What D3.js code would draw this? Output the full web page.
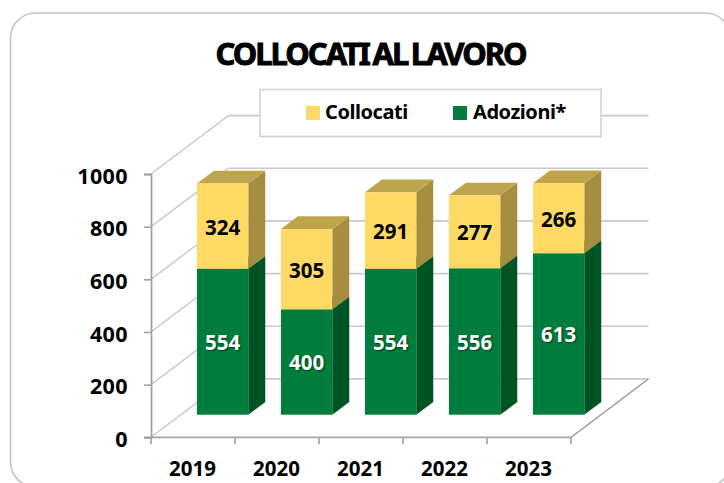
<!DOCTYPE html>
<html><head><meta charset="utf-8">
<script src="https://cdn.jsdelivr.net/npm/d3@7"></script>
<style>
html,body{margin:0;padding:0;background:#fff;overflow:hidden}
text{font-family:"Noto Sans",sans-serif;font-weight:700;fill:#000}
</style></head><body>
<svg id="c" width="724" height="483"></svg>
<script>
const years = ["2019","2020","2021","2022","2023"];
const adozioni = [554,400,554,556,613];
const collocati = [324,305,291,277,266];
const yTicks = [0,200,400,600,800,1000];
const titleText = "COLLOCATI AL LAVORO";

const svg = d3.select("#c");
const GRID="#c9c9c9", AXIS="#a3a3a3";
const yellow={front:"#FFD966",top:"#BFA44E",side:"#A68E40"};
const green={front:"#007D3C",top:"#00632F",side:"#005424"};

// frame
svg.append("rect").attr("x",10.5).attr("y",13).attr("width",720).attr("height",474).attr("rx",25)
  .attr("fill","#fff").attr("stroke","#c4c4c4").attr("stroke-width",1.6);

const y=d3.scaleLinear().domain([0,1000]).range([437.3,174]);
const x=d3.scaleBand().domain(years).range([151,571]);
const wall={dx:77.5,dy:58.4};           // oblique depth of the plot box
const bw=51.3, bar={dx:17,dy:12.7};     // bar width and depth
const floor={dx:30,dy:22.6};            // offset of bar fronts from axis plane

const g=svg.append("g");
// back wall grid + left wall diagonals
yTicks.forEach(v=>{
  if(v>0) g.append("line").attr("x1",x.range()[0]+wall.dx).attr("x2",x.range()[1]+wall.dx)
    .attr("y1",y(v)-wall.dy).attr("y2",y(v)-wall.dy).attr("stroke",GRID).attr("stroke-width",1.7);
  g.append("line").attr("x1",x.range()[0]).attr("x2",x.range()[0]+wall.dx)
    .attr("y1",y(v)).attr("y2",y(v)-wall.dy).attr("stroke",GRID).attr("stroke-width",1.4);
});
// floor back line & right diagonal
g.append("line").attr("x1",x.range()[0]+wall.dx).attr("x2",x.range()[1]+wall.dx)
  .attr("y1",y(0)-wall.dy).attr("y2",y(0)-wall.dy).attr("stroke",GRID).attr("stroke-width",1.7);
g.append("line").attr("x1",x.range()[1]).attr("x2",x.range()[1]+wall.dx)
  .attr("y1",y(0)).attr("y2",y(0)-wall.dy).attr("stroke",AXIS).attr("stroke-width",1.5);

// axes
const ax=svg.append("g").attr("transform",`translate(151,0)`)
  .call(d3.axisLeft(y).tickValues(yTicks).tickSize(7).tickPadding(16).tickFormat(d3.format("d")));
ax.selectAll("line").attr("stroke",AXIS).attr("stroke-width",1.6);
ax.select(".domain").attr("stroke",AXIS).attr("stroke-width",1.8);
ax.selectAll("text").style("font-size","21.5px").style("letter-spacing","0.4px")
  .style("font-family",'"Noto Sans",sans-serif').attr("fill","#000").attr("dy","0.42em");

const bx=svg.append("g").attr("transform",`translate(0,${y(0)})`);
bx.append("line").attr("x1",x.range()[0]-7).attr("x2",x.range()[1]).attr("stroke",AXIS).attr("stroke-width",1.8);
[...years.map(d=>x(d)),x.range()[1]].forEach(px=>{
  bx.append("line").attr("x1",px).attr("x2",px).attr("y1",0).attr("y2",7).attr("stroke",AXIS).attr("stroke-width",1.6);
});
bx.selectAll("text.t").data(years).join("text").attr("class","t")
  .attr("x",d=>x(d)+x.bandwidth()/2-0.5).attr("y",38.5).attr("text-anchor","middle")
  .style("font-size","20.5px").text(d=>d);

// bars
function seg(px,v0,v1,c){
  const l=px,r=px+bw,b=y(v0)-floor.dy,t=y(v1)-floor.dy;
  const s=svg.append("g");
  s.append("path").attr("fill",c.side).attr("d",`M${r},${b}L${r+bar.dx},${b-bar.dy}L${r+bar.dx},${t-bar.dy}L${r},${t}Z`);
  s.append("path").attr("fill",c.top).attr("d",`M${l},${t}L${l+bar.dx},${t-bar.dy}L${r+bar.dx},${t-bar.dy}L${r},${t}Z`);
  s.append("rect").attr("x",l).attr("y",t).attr("width",bw).attr("height",b-t).attr("fill",c.front);
}
years.forEach((d,i)=>{
  const px=x(d)+x.bandwidth()/2+floor.dx-bw/2-0.4;
  seg(px,0,adozioni[i],green);
  seg(px,adozioni[i],adozioni[i]+collocati[i],yellow);
  const lab=(v0,v1,val,col,sh)=>{
    svg.append("text").attr("x",px+bw/2).attr("y",(y(v0)+y(v1))/2-floor.dy).attr("dy","0.41em")
      .attr("text-anchor","middle").style("font-size","20.5px").style("fill",col)
      .style("text-shadow",sh).text(val);
  };
  lab(0,adozioni[i],adozioni[i],"#fff","1px 1px 2px rgba(0,0,0,.55)");
  lab(adozioni[i],adozioni[i]+collocati[i],collocati[i],"#000","none");
});

// title
svg.append("text").attr("x",370.5).attr("y",64.5).attr("text-anchor","middle")
  .style("font-size","31px").style("letter-spacing","-2px").style("word-spacing","-2.5px")
  .style("stroke","#000").style("stroke-width","0.9px").text(titleText);

// legend
svg.append("rect").attr("x",260).attr("y",89.5).attr("width",341).attr("height",47)
  .attr("fill","#fff").attr("stroke","#d2d2d2").attr("stroke-width",1.6);
const legend=[{n:"Collocati",c:yellow.front,sx:306,tx:325},{n:"Adozioni*",c:green.front,sx:453,tx:473}];
legend.forEach(l=>{
  svg.append("rect").attr("x",l.sx).attr("y",106).attr("width",14).attr("height",14).attr("fill",l.c);
  svg.append("text").attr("x",l.tx).attr("y",118.5).style("font-size","20px").style("letter-spacing","-0.45px").text(l.n);
});
</script>
</body></html>
